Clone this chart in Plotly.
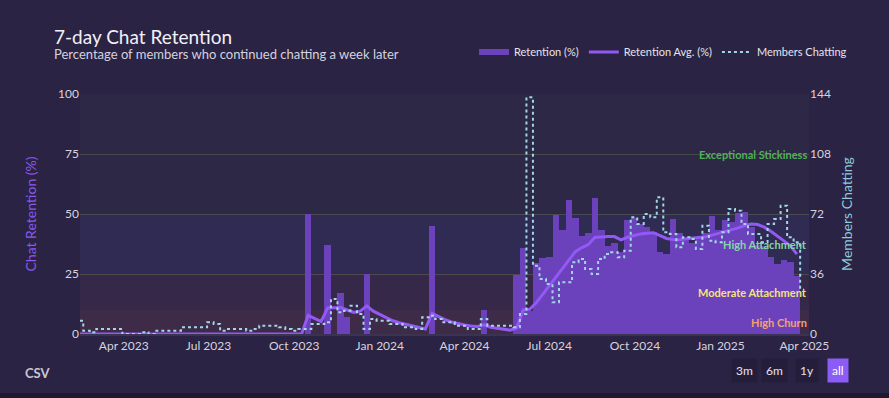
import pandas as pd
import plotly.graph_objects as go

# Weekly periods (Monday of each week)
weeks = pd.date_range("2023-02-13", periods=112, freq="7D")

# Weekly 7-day retention (%)
retention = (
    [0] * 35
    + [50, 0, 0, 37, 0, 17, 7, 0, 0, 25]
    + [0] * 9
    + [45]
    + [0] * 7
    + [10]
    + [0] * 4
    + [24.5, 36, 9.5, 29.5, 31.5, 32, 49.5, 43.5, 56, 48.5, 41, 42, 56.5, 43.5,
       36.5, 38, 34, 47.5, 48.5, 46, 44.5, 42.5, 34, 33.5, 48, 42, 40, 38, 40,
       42, 49, 43.5, 47.5, 46.5, 50.5, 51, 44.5, 37, 36.5, 32, 29, 31, 30, 24]
)

# Rolling average of retention (%)
retention_avg = (
    [0] * 35
    + [7.8, 6.5, 5.2, 10.8, 11, 11, 10, 9, 9.5, 11.7, 9.5, 8.2, 6.6, 5.5, 4.7,
       4, 3.2, 2.7, 2.1, 8.6, 7.2, 6, 5, 4.3, 3.8, 3.3, 3.1, 3.8, 2.8, 2.4, 2.0,
       1.6, 2.5, 10, 10.3, 13, 16.5, 20, 23.8, 27.5, 30.8, 34.3, 36, 37.3, 40.2,
       40.5, 40.6, 40.6, 39.2, 40.3, 41, 41.7, 42, 42.2, 41, 39.8, 39.4, 39.3,
       39.7, 40, 40.2, 40.5, 41.2, 41.9, 42.5, 43.2, 44.2, 45.2, 45.8, 45.6,
       44.5, 42.8, 40.9, 38.8, 36.7, 33.3]
)

# Members chatting per week
members = [
    8, 2, 1, 3, 3, 3, 3, 0, 0, 0, 1, 0, 2, 2, 2, 2, 4, 4, 4, 4,
    7, 6, 2, 3, 3, 3, 2, 3, 5, 5, 5, 4, 3, 2, 3, 3, 6, 6, 7, 21,
    13, 14, 17, 12, 3, 9, 8, 8, 6, 6, 4, 4, 3, 10, 11, 9, 7, 7, 5, 5,
    3, 3, 9, 5, 5, 5, 5, 4, 12, 142, 41, 33, 30, 19, 31, 31, 43, 45, 39, 36,
    45, 48, 49, 46, 50, 70, 66, 72, 70, 82, 61, 60, 52, 58, 57, 51, 65, 56, 55, 61,
    75, 74, 66, 60, 60, 55, 66, 69, 77, 58, 55, 27,
]

# Retention bands
band_names = ["High Churn", "Moderate Attachment", "High Attachment", "Exceptional Stickiness"]
band_lo = [0, 10, 25, 50]
band_hi = [10, 25, 50, 100]
band_fill = ["rgba(235,95,110,0.10)", "rgba(235,105,130,0.06)",
             "rgba(110,125,255,0.07)", "rgba(120,190,120,0.02)"]
band_text = ["#f2a273", "#f3e47a", "#86d6a8", "#4fb255"]

FONT = "Lato"
BAR_COLOR = "#6b41bc"

fig = go.Figure()
fig.add_trace(go.Bar(
    x=weeks[:len(retention)], y=retention, name="Retention (%)", showlegend=False,
    marker=dict(color=BAR_COLOR, line=dict(width=0)),
))
# legend swatch for the bars (wide band like the reference)
fig.add_trace(go.Scatter(
    x=[None], y=[None], name="Retention (%)", mode="lines",
    line=dict(color=BAR_COLOR, width=6), hoverinfo="skip",
))
fig.add_trace(go.Scatter(
    x=weeks[:len(retention_avg)], y=retention_avg, name="Retention Avg. (%)",
    mode="lines", line=dict(color="#9259f4", width=3),
))
fig.add_trace(go.Scatter(
    x=weeks, y=members, name="Members Chatting", yaxis="y2",
    mode="lines", line=dict(color="#a3d5e8", width=2, dash="dot", shape="hvh"),
))

shapes = []
annotations = []
for lo, hi, fill, name, col in zip(band_lo, band_hi, band_fill, band_names, band_text):
    shapes.append(dict(type="rect", xref="paper", yref="y", x0=0, x1=1, y0=lo, y1=hi,
                       fillcolor=fill, line=dict(width=0), layer="below"))
    annotations.append(dict(xref="paper", yref="y", x=1, y=(lo + hi) / 2,
                            xanchor="right", yanchor="middle", showarrow=False,
                            text=name, font=dict(family=FONT, size=11, color=col, weight="bold")))

# bottom strip below card
shapes.append(dict(type="rect", xref="paper", yref="paper", x0=-0.2, x1=1.2, y0=-0.3, y1=-0.246,
                   fillcolor="#1e1930", line=dict(width=0)))

annotations += [
    dict(xref="paper", yref="paper", x=-0.0384, y=1.2375, xanchor="left", yanchor="middle",
         showarrow=False, text="7-day Chat Retention",
         font=dict(family=FONT, size=19, color="#f2f0f7")),
    dict(xref="paper", yref="paper", x=-0.0384, y=1.1667, xanchor="left", yanchor="middle",
         showarrow=False, text="Percentage of members who continued chatting a week later",
         font=dict(family=FONT, size=13, color="#d4d1de")),
    dict(xref="paper", yref="paper", x=-0.0576, y=-0.1625, xanchor="center", yanchor="middle",
         showarrow=False, text="CSV", font=dict(family=FONT, size=13, color="#c9c6d4", weight="bold")),
]

btn_labels = ["3m", "6m", "1y", "all"]
btn_x = [0.911, 0.953, 0.997, 1.040]
for lab, bx in zip(btn_labels, btn_x):
    active = lab == "all"
    annotations.append(dict(
        xref="paper", yref="paper", x=bx, y=-0.15, xanchor="center", yanchor="middle",
        showarrow=False, text=lab, borderpad=4,
        bgcolor="#8b5cf6" if active else "#251e3b",
        font=dict(family=FONT, size=12, color="#ffffff" if active else "#e6e3ee")))

fig.update_layout(
    width=889, height=398,
    margin=dict(l=80, r=80, t=94, b=64, autoexpand=False),
    paper_bgcolor="#2a2343",
    plot_bgcolor="#2b2545",
    font=dict(family=FONT, size=12, color="#d6d3df"),
    bargap=0,
    showlegend=True,
    legend=dict(orientation="h", x=1.059, xanchor="right", y=1.175, yanchor="middle",
                font=dict(family=FONT, size=11, color="#e6e3ee"),
                bgcolor="rgba(0,0,0,0)", traceorder="normal", itemwidth=30),
    xaxis=dict(type="date", range=["2023-02-13", "2025-04-06"], automargin=False,
               tick0="2023-01-01", dtick="M3", tickformat="%b %Y",
               showgrid=False, zeroline=False, ticks="",
               showline=True, linecolor="#3a3452", linewidth=2,
               tickfont=dict(family=FONT, size=12, color="#d6d3df")),
    yaxis=dict(range=[0, 100], tickvals=[0, 25, 50, 75, 100], showgrid=True, automargin=False,
               gridcolor="rgba(125,135,85,0.35)", gridwidth=1, zeroline=False, ticks="",
               tickfont=dict(family=FONT, size=12, color="#d6d3df"),
               title=dict(text="Chat Retention (%)", standoff=18,
                          font=dict(family=FONT, size=14, color="#8c58ee"))),
    yaxis2=dict(overlaying="y", side="right", range=[0, 144], automargin=False,
                tickvals=[0, 36, 72, 108, 144], showgrid=False, zeroline=False, ticks="",
                tickfont=dict(family=FONT, size=12, color="#d6d3df"),
                title=dict(text="Members Chatting", standoff=12,
                           font=dict(family=FONT, size=14, color="#8ec9dc"))),
    shapes=shapes,
    annotations=annotations,
)

fig.write_html("out.html", config={"displayModeBar": False},
               post_script="document.body.style.margin='0px';")
